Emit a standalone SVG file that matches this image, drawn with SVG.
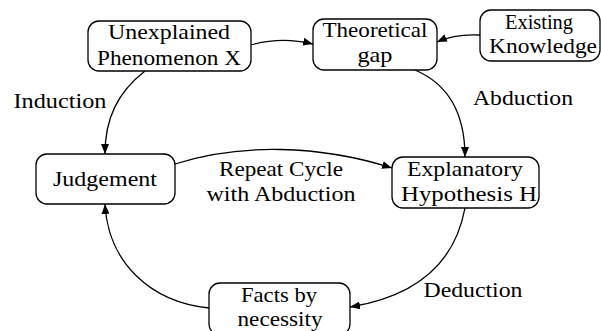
<svg xmlns="http://www.w3.org/2000/svg" width="601" height="331" viewBox="0 0 601 331">
<style>
.box{fill:#fff;stroke:#000;stroke-width:1.3}
.t{font-family:"Liberation Serif",serif;font-size:21px;fill:#000;text-anchor:middle}
.e{fill:none;stroke:#000;stroke-width:1.3;marker-end:url(#ah)}
</style>
<defs>
<marker id="ah" viewBox="0 0 10 8" refX="10" refY="4" markerWidth="10" markerHeight="8" markerUnits="userSpaceOnUse" orient="auto">
<path d="M0,0 L10,4 L0,8 Z" fill="#000"/>
</marker>
</defs>
<rect width="601" height="331" fill="#fff"/>
<g id="connectors">
<path class="e" d="M251,45 C272,39 292,39 313,44"/>
<path class="e" d="M480,35 C462,34 448,37 437,42"/>
<path class="e" d="M415,70 C448,84 465,112 465,157"/>
<path class="e" d="M145,71 C118,92 105,118 105,154"/>
<path class="e" d="M175,164 C240,143 320,145 392,168"/>
<path class="e" d="M465,208 C455,262 418,296 350,307"/>
<path class="e" d="M209,308 C150,302 108,262 105,204"/>
</g>
<g id="edge-labels">
<text class="t" x="60" y="108" textLength="93" lengthAdjust="spacingAndGlyphs">Induction</text>
<text class="t" x="523" y="105" textLength="100" lengthAdjust="spacingAndGlyphs">Abduction</text>
<text class="t" x="281" y="176" textLength="124" lengthAdjust="spacingAndGlyphs">Repeat Cycle</text>
<text class="t" x="281" y="201" textLength="149" lengthAdjust="spacingAndGlyphs">with Abduction</text>
<text class="t" x="473" y="297" textLength="99" lengthAdjust="spacingAndGlyphs">Deduction</text>
</g>
<g id="unexplained">
<rect class="box" x="88" y="21" width="163" height="50" rx="11"/>
<text class="t" x="169" y="39" textLength="122" lengthAdjust="spacingAndGlyphs">Unexplained</text>
<text class="t" x="169" y="65" textLength="144" lengthAdjust="spacingAndGlyphs">Phenomenon X</text>
</g>
<g id="theoretical">
<rect class="box" x="313" y="19" width="124" height="51" rx="11"/>
<text class="t" x="375" y="37" textLength="105" lengthAdjust="spacingAndGlyphs">Theoretical</text>
<text class="t" x="375" y="62" textLength="35" lengthAdjust="spacingAndGlyphs">gap</text>
</g>
<g id="existing">
<rect class="box" x="480" y="10" width="120" height="51" rx="11"/>
<text class="t" x="539" y="29" textLength="68" lengthAdjust="spacingAndGlyphs">Existing</text>
<text class="t" x="543" y="53" textLength="108" lengthAdjust="spacingAndGlyphs">Knowledge</text>
</g>
<g id="judgement">
<rect class="box" x="36" y="154" width="139" height="50" rx="11"/>
<text class="t" x="105" y="186" textLength="104" lengthAdjust="spacingAndGlyphs">Judgement</text>
</g>
<g id="explanatory">
<rect class="box" x="392" y="157" width="147" height="51" rx="11"/>
<text class="t" x="465" y="176" textLength="116" lengthAdjust="spacingAndGlyphs">Explanatory</text>
<text class="t" x="469" y="201" textLength="136" lengthAdjust="spacingAndGlyphs">Hypothesis H</text>
</g>
<g id="facts">
<rect class="box" x="209" y="283" width="141" height="52" rx="11"/>
<text class="t" x="279" y="302" textLength="76" lengthAdjust="spacingAndGlyphs">Facts by</text>
<text class="t" x="280" y="326" textLength="85" lengthAdjust="spacingAndGlyphs">necessity</text>
</g>
</svg>
